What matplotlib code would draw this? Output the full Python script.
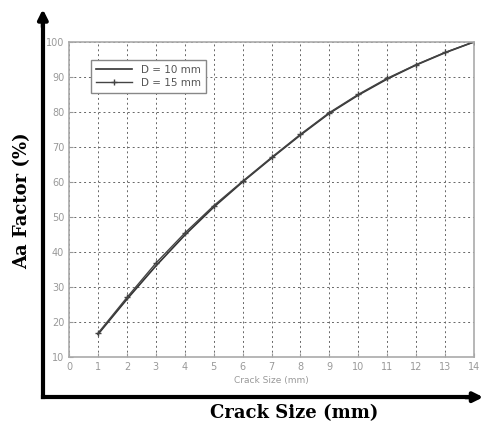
import matplotlib.pyplot as plt

crack_size = [1, 2, 3, 4, 5, 6, 7, 8, 9, 10, 11, 12, 13, 14]
aa_d10 = [16.5, 26.5, 36.0, 44.8, 52.8, 60.0, 66.8, 73.4, 79.6, 84.8, 89.4, 93.4, 96.9, 100.0]
aa_d15 = [16.8, 27.0, 36.8, 45.4, 53.2, 60.2, 67.0, 73.6, 79.8, 85.0, 89.6, 93.5, 97.0, 100.0]


def main():
    fig = plt.figure(figsize=(4.87, 4.28), dpi=100)
    ax = fig.add_axes([0.142, 0.166, 0.831, 0.736])

    ax.plot(crack_size, aa_d10, color="#333333", lw=1.2, label="D = 10 mm")
    ax.plot(crack_size, aa_d15, color="#444444", lw=1.0, marker="+", ms=5,
            label="D = 15 mm")

    ax.set_xlim(0, 14)
    ax.set_ylim(10, 100)
    ax.set_xticks(range(0, 15))
    ax.set_yticks(range(10, 101, 10))
    ax.grid(True, ls=(0, (2, 3)), color="#666666", lw=0.7)
    ax.tick_params(labelsize=7, labelcolor="#999999", color="#999999",
                   direction="in", length=3)
    for s in ax.spines.values():
        s.set_color("#aaaaaa")
        s.set_linewidth(1.2)
    ax.set_xlabel("Crack Size (mm)", fontsize=6.5, color="#999999", labelpad=3)

    leg = ax.legend(loc="upper left", fontsize=7.5, fancybox=False,
                    bbox_to_anchor=(0.04, 0.96), handlelength=3.5,
                    borderpad=0.5, labelspacing=0.3, framealpha=1)
    leg.get_frame().set_edgecolor("#888888")
    leg.get_frame().set_linewidth(1.0)
    for t in leg.get_texts():
        t.set_color("#555555")

    # outer axes arrows
    fig.add_artist(plt.Line2D([0.088, 0.088], [0.072, 0.96], color="black",
                              lw=3, transform=fig.transFigure))
    fig.add_artist(plt.Line2D([0.088, 0.975], [0.072, 0.072], color="black",
                              lw=3, transform=fig.transFigure))
    ax.annotate("", xy=(0.088, 0.985), xytext=(0.088, 0.93),
                xycoords="figure fraction", textcoords="figure fraction",
                arrowprops=dict(arrowstyle="-|>", color="black", lw=3,
                                mutation_scale=14))
    ax.annotate("", xy=(0.998, 0.072), xytext=(0.95, 0.072),
                xycoords="figure fraction", textcoords="figure fraction",
                arrowprops=dict(arrowstyle="-|>", color="black", lw=3,
                                mutation_scale=14))

    fig.text(0.045, 0.53, "Aa Factor (%)", rotation=90, ha="center",
             va="center", fontsize=13, fontweight="bold", family="serif")
    fig.text(0.605, 0.035, "Crack Size (mm)", ha="center", va="center",
             fontsize=13, fontweight="bold", family="serif")

    fig.savefig("out.png", dpi=100)


if __name__ == "__main__":
    main()
